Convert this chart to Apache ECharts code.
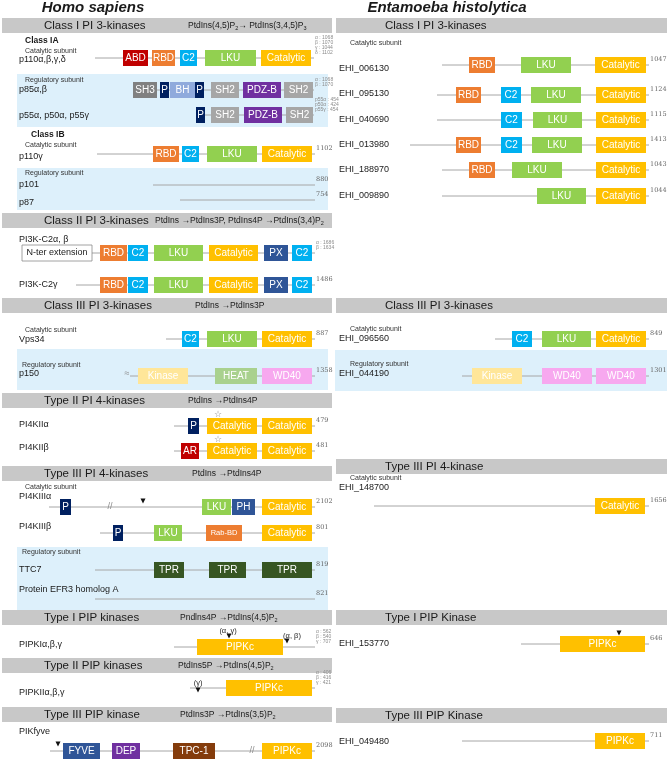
<!DOCTYPE html>
<html>
<head>
<meta charset="utf-8">
<script src="https://cdn.jsdelivr.net/npm/echarts@6/dist/echarts.min.js"></script>
<style>
  html, body { margin: 0; padding: 0; background: #fff; }
  #chart { width: 669px; height: 761px; }
</style>
</head>
<body>
<div id="chart"></div>
<script>
const FONT = '"Liberation Sans", Arial, sans-serif';

// species headings: [text, centre x]
const species = [['Homo sapiens', 93], ['Entamoeba histolytica', 447]];

// grey section bars: [side, title, reaction, top, reaction x]
const sections = [
  ['L', 'Class I PI 3-kinases', 'PtdIns(4,5)P_2→ PtdIns(3,4,5)P_3', 18, 188],
  ['L', 'Class II PI 3-kinases', 'PtdIns →PtdIns3P, PtdIns4P →PtdIns(3,4)P_2', 213, 155],
  ['L', 'Class III PI 3-kinases', 'PtdIns →PtdIns3P', 298, 195],
  ['L', 'Type II PI 4-kinases', 'PtdIns →PtdIns4P', 393, 188],
  ['L', 'Type III PI 4-kinases', 'PtdIns →PtdIns4P', 466, 192],
  ['L', 'Type I PIP kinases', 'Pndlns4P →PtdIns(4,5)P_2', 610, 180],
  ['L', 'Type II PIP kinases', 'PtdIns5P →PtdIns(4,5)P_2', 658, 178],
  ['L', 'Type III PIP kinase', 'PtdIns3P →PtdIns(3,5)P_2', 707, 180],
  ['R', 'Class I PI 3-kinases', '', 18, 0],
  ['R', 'Class III PI 3-kinases', '', 298, 0],
  ['R', 'Type III PI 4-kinase', '', 459, 0],
  ['R', 'Type I PIP Kinase', '', 610, 0],
  ['R', 'Type III PIP Kinase', '', 708, 0]
];

// light blue regulatory-subunit bands: [side, top, bottom]
const bands = [
  ['L', 74, 127], ['L', 168, 210], ['L', 349, 390], ['L', 547, 610],
  ['R', 350, 391]
];

// proteins: [name, side, line start, line end, line y, name y, length]
const proteins = [
  ['p110α,β,γ,δ', 'L', 95, 314, 58, 60, 'α : 1068\nβ : 1070\nγ : 1044\nδ : 1102'],
  ['p85α,β', 'L', 133, 314, 90, 90, 'α : 1068\nβ : 1070'],
  ['p55α, p50α, p55γ', 'L', 196, 314, 115, 116, 'p55α : 454\np50α : 424\np55γ : 454'],
  ['p110γ', 'L', 97, 315, 154, 157, '1102'],
  ['p101', 'L', 153, 315, 185, 185, '880'],
  ['p87', 'L', 180, 315, 200, 203, '754'],
  ['PI3K-C2α, β', 'L', 92, 315, 253, 240, 'α : 1686\nβ : 1634'],
  ['PI3K-C2γ', 'L', 76, 315, 285, 285, '1486'],
  ['Vps34', 'L', 166, 315, 339, 340, '887'],
  ['p150', 'L', 130, 315, 376, 374, '1358'],
  ['PI4KIIα', 'L', 174, 315, 426, 425, '479'],
  ['PI4KIIβ', 'L', 174, 315, 451, 448, '481'],
  ['PI4KIIIα', 'L', 49, 315, 507, 497, '2102'],
  ['PI4KIIIβ', 'L', 100, 315, 533, 527, '801'],
  ['TTC7', 'L', 95, 315, 570, 570, '819'],
  ['Protein EFR3 homolog A', 'L', 95, 315, 599, 590, '821'],
  ['PIPKIα,β,γ', 'L', 174, 315, 647, 645, 'α : 562\nβ : 540\nγ : 707'],
  ['PIPKIIα,β,γ', 'L', 190, 315, 688, 693, 'α : 406\nβ : 416\nγ : 421'],
  ['PIKfyve', 'L', 50, 315, 751, 732, '2098'],
  ['EHI_006130', 'R', 442, 649, 65, 69, '1047'],
  ['EHI_095130', 'R', 437, 649, 95, 94, '1124'],
  ['EHI_040690', 'R', 437, 649, 120, 120, '1115'],
  ['EHI_013980', 'R', 410, 649, 145, 145, '1413'],
  ['EHI_188970', 'R', 442, 649, 170, 170, '1043'],
  ['EHI_009890', 'R', 442, 649, 196, 196, '1044'],
  ['EHI_096560', 'R', 495, 649, 339, 339, '849'],
  ['EHI_044190', 'R', 462, 649, 376, 374, '1301'],
  ['EHI_148700', 'R', 374, 649, 506, 488, '1656'],
  ['EHI_153770', 'R', 521, 649, 644, 644, '646'],
  ['EHI_049480', 'R', 462, 649, 741, 742, '711']
];

// domains: [protein, start, end, domain]
const domains = [
  ['p110α,β,γ,δ', 123, 148, 'ABD'], ['p110α,β,γ,δ', 152, 175, 'RBD'], ['p110α,β,γ,δ', 180, 197, 'C2'],
  ['p110α,β,γ,δ', 205, 256, 'LKU'], ['p110α,β,γ,δ', 261, 311, 'Catalytic'],
  ['p85α,β', 133, 157, 'SH3'], ['p85α,β', 160, 169, 'P'], ['p85α,β', 170, 195, 'BH'], ['p85α,β', 195, 204, 'P'],
  ['p85α,β', 211, 239, 'SH2'], ['p85α,β', 243, 281, 'PDZ-B'], ['p85α,β', 284, 313, 'SH2'],
  ['p55α, p50α, p55γ', 196, 205, 'P'], ['p55α, p50α, p55γ', 211, 239, 'SH2'],
  ['p55α, p50α, p55γ', 244, 282, 'PDZ-B'], ['p55α, p50α, p55γ', 286, 313, 'SH2'],
  ['p110γ', 153, 179, 'RBD'], ['p110γ', 182, 199, 'C2'], ['p110γ', 207, 257, 'LKU'], ['p110γ', 262, 312, 'Catalytic'],
  ['PI3K-C2α, β', 22, 92, 'N-ter extension'], ['PI3K-C2α, β', 100, 127, 'RBD'], ['PI3K-C2α, β', 128, 148, 'C2'],
  ['PI3K-C2α, β', 154, 203, 'LKU'], ['PI3K-C2α, β', 209, 258, 'Catalytic'], ['PI3K-C2α, β', 264, 288, 'PX'],
  ['PI3K-C2α, β', 292, 312, 'C2'],
  ['PI3K-C2γ', 100, 127, 'RBD'], ['PI3K-C2γ', 128, 148, 'C2'], ['PI3K-C2γ', 154, 203, 'LKU'],
  ['PI3K-C2γ', 209, 258, 'Catalytic'], ['PI3K-C2γ', 264, 288, 'PX'], ['PI3K-C2γ', 292, 312, 'C2'],
  ['Vps34', 182, 199, 'C2'], ['Vps34', 207, 257, 'LKU'], ['Vps34', 262, 312, 'Catalytic'],
  ['p150', 138, 188, 'Kinase'], ['p150', 215, 257, 'HEAT'], ['p150', 262, 312, 'WD40'],
  ['PI4KIIα', 188, 199, 'P'], ['PI4KIIα', 207, 257, 'Catalytic'], ['PI4KIIα', 262, 312, 'Catalytic'],
  ['PI4KIIβ', 181, 199, 'AR'], ['PI4KIIβ', 207, 257, 'Catalytic'], ['PI4KIIβ', 262, 312, 'Catalytic'],
  ['PI4KIIIα', 60, 71, 'P'], ['PI4KIIIα', 202, 231, 'LKU'], ['PI4KIIIα', 232, 255, 'PH'], ['PI4KIIIα', 262, 312, 'Catalytic'],
  ['PI4KIIIβ', 113, 123, 'P'], ['PI4KIIIβ', 154, 182, 'LKU'], ['PI4KIIIβ', 206, 242, 'Rab-BD'], ['PI4KIIIβ', 262, 312, 'Catalytic'],
  ['TTC7', 154, 184, 'TPR'], ['TTC7', 209, 246, 'TPR'], ['TTC7', 262, 312, 'TPR'],
  ['PIPKIα,β,γ', 197, 283, 'PIPKc'],
  ['PIPKIIα,β,γ', 226, 312, 'PIPKc'],
  ['PIKfyve', 63, 100, 'FYVE'], ['PIKfyve', 112, 140, 'DEP'], ['PIKfyve', 173, 215, 'TPC-1'], ['PIKfyve', 262, 312, 'PIPKc'],
  ['EHI_006130', 469, 495, 'RBD'], ['EHI_006130', 521, 571, 'LKU'], ['EHI_006130', 595, 646, 'Catalytic'],
  ['EHI_095130', 456, 481, 'RBD'], ['EHI_095130', 501, 521, 'C2'], ['EHI_095130', 531, 581, 'LKU'], ['EHI_095130', 596, 646, 'Catalytic'],
  ['EHI_040690', 501, 522, 'C2'], ['EHI_040690', 533, 582, 'LKU'], ['EHI_040690', 596, 646, 'Catalytic'],
  ['EHI_013980', 456, 481, 'RBD'], ['EHI_013980', 501, 522, 'C2'], ['EHI_013980', 532, 582, 'LKU'], ['EHI_013980', 596, 646, 'Catalytic'],
  ['EHI_188970', 469, 495, 'RBD'], ['EHI_188970', 512, 562, 'LKU'], ['EHI_188970', 596, 646, 'Catalytic'],
  ['EHI_009890', 537, 586, 'LKU'], ['EHI_009890', 596, 646, 'Catalytic'],
  ['EHI_096560', 512, 532, 'C2'], ['EHI_096560', 542, 591, 'LKU'], ['EHI_096560', 596, 646, 'Catalytic'],
  ['EHI_044190', 472, 522, 'Kinase'], ['EHI_044190', 542, 592, 'WD40'], ['EHI_044190', 596, 646, 'WD40'],
  ['EHI_148700', 595, 645, 'Catalytic'],
  ['EHI_153770', 560, 645, 'PIPKc'],
  ['EHI_049480', 595, 645, 'PIPKc']
];

// captions above the rows: [x, y, text, kind]
const captions = [
  [25, 41, 'Class IA', 'bold'], [25, 51, 'Catalytic subunit', 'sub'], [25, 80, 'Regulatory subunit', 'sub'],
  [31, 135, 'Class IB', 'bold'], [25, 145, 'Catalytic subunit', 'sub'], [25, 173, 'Regulatory subunit', 'sub'],
  [25, 330, 'Catalytic subunit', 'sub'], [22, 365, 'Regulatory subunit', 'sub'],
  [25, 487, 'Catalytic subunit', 'sub'], [22, 552, 'Regulatory subunit', 'sub'],
  [350, 43, 'Catalytic subunit', 'sub'], [350, 329, 'Catalytic subunit', 'sub'],
  [350, 364, 'Regulatory subunit', 'sub'], [350, 478, 'Catalytic subunit', 'sub'],
  [228, 631, '(α, γ)', 'note'], [292, 636, '(α, β)', 'note'], [198, 683, '(γ)', 'note'],
  [218, 415, '☆', 'star'], [218, 440, '☆', 'star'],
  [110, 507, '//', 'break'], [252, 751, '//', 'break'], [127, 374, '≈', 'break']
];

// site markers (triangles): [x, y]
const sites = [[143, 501], [229, 636], [287, 641], [198, 690], [58, 744], [619, 633]];

const colors = {
  'ABD': '#c00000', 'RBD': '#ed7d31', 'C2': '#00b0f0', 'LKU': '#92d050', 'Catalytic': '#ffc000',
  'SH3': '#808080', 'P': '#002060', 'BH': '#8faadc', 'SH2': '#a6a6a6', 'PDZ-B': '#7030a0',
  'PX': '#2f5597', 'N-ter extension': '#ffffff', 'Kinase': '#ffe699', 'HEAT': '#a9d18e',
  'WD40': '#f7a8ef', 'AR': '#c00000', 'PH': '#2f5597', 'Rab-BD': '#ed7d31', 'TPR': '#375623',
  'PIPKc': '#ffc000', 'FYVE': '#2f5597', 'DEP': '#7030a0', 'TPC-1': '#843c0c'
};

const lineOf = {};
proteins.forEach(p => { lineOf[p[0]] = p[4]; });

function richReaction(s) {
  const parts = s.split(/_(\d)/);
  return parts.map((t, i) => t === '' ? '' : (i % 2 ? '{s|' + t + '}' : '{n|' + t + '}')).join('');
}

function txt(x, y, text, style) {
  return { type: 'text', x: x, y: y, style: Object.assign({ text: text, fontFamily: FONT, fill: '#1a1a1a', verticalAlign: 'middle' }, style) };
}

const chart = echarts.init(document.getElementById('chart'));

chart.setOption({
  animation: false,
  grid: { left: 0, right: 0, top: 0, bottom: 0 },
  xAxis: { type: 'value', min: 0, max: 669, show: false },
  yAxis: { type: 'value', min: 0, max: 761, inverse: true, show: false },
  series: [
    {
      // blue bands
      type: 'custom', z: 1,
      data: bands.map(b => [0, b[1]]),
      renderItem: function (params, api) {
        const b = bands[params.dataIndex];
        const x0 = b[0] === 'L' ? 17 : 335, x1 = b[0] === 'L' ? 328 : 667;
        const p0 = api.coord([x0, b[1]]), p1 = api.coord([x1, b[2]]);
        return { type: 'rect', shape: { x: p0[0], y: p0[1], width: p1[0] - p0[0], height: p1[1] - p0[1] }, style: { fill: '#ddf0fb' } };
      }
    },
    {
      // section bars
      type: 'custom', z: 2,
      data: sections.map(s => [0, s[3]]),
      renderItem: function (params, api) {
        const s = sections[params.dataIndex];
        const left = s[0] === 'L';
        const p0 = api.coord([left ? 2 : 336, s[3]]), p1 = api.coord([left ? 332 : 667, s[3] + 15]);
        const cy = (p0[1] + p1[1]) / 2;
        const kids = [
          { type: 'rect', shape: { x: p0[0], y: p0[1], width: p1[0] - p0[0], height: p1[1] - p0[1] }, style: { fill: '#c8c8c8' } },
          txt(api.coord([left ? 44 : 385, 0])[0], cy, s[1], { fontSize: 11.5 })
        ];
        if (s[2]) {
          kids.push({
            type: 'text', x: api.coord([s[4], 0])[0], y: cy,
            style: {
              text: richReaction(s[2]), verticalAlign: 'middle', fontFamily: FONT,
              rich: {
                n: { fontSize: 8.5, lineHeight: 12, fill: '#1a1a1a', fontFamily: FONT },
                s: { fontSize: 5.5, lineHeight: 6, fill: '#1a1a1a', fontFamily: FONT, verticalAlign: 'bottom' }
              }
            }
          });
        }
        return { type: 'group', children: kids };
      }
    },
    {
      // backbones, names and lengths
      type: 'custom', z: 3,
      data: proteins.map(p => [p[2], p[4]]),
      renderItem: function (params, api) {
        const p = proteins[params.dataIndex];
        const a = api.coord([p[2], p[4]]), b = api.coord([p[3], p[4]]);
        const nameX = api.coord([p[1] === 'L' ? 19 : 339, 0])[0];
        const kids = [
          { type: 'line', shape: { x1: a[0], y1: a[1], x2: b[0], y2: b[1] }, style: { stroke: '#a6a6a6', lineWidth: 1 } },
          txt(nameX, api.coord([0, p[5]])[1], p[0], { fontSize: 9 })
        ];
        if (p[6].indexOf('\n') >= 0) {
          const n = p[6].split('\n').length;
          kids.push({
            type: 'text', x: b[0] + 1, y: a[1] - 3 - n * 2.5,
            style: { text: p[6], fontFamily: FONT, fontSize: 5, lineHeight: 5, fill: '#8c8c8c', verticalAlign: 'middle' }
          });
        } else {
          kids.push(txt(b[0] + 1, a[1] - 6, p[6], { fontSize: 6.5, fill: '#666', fontFamily: '"DejaVu Serif", serif' }));
        }
        return { type: 'group', children: kids };
      }
    },
    {
      // domains
      type: 'custom', z: 4,
      data: domains.map(d => [d[1], lineOf[d[0]]]),
      renderItem: function (params, api) {
        const d = domains[params.dataIndex];
        const y = lineOf[d[0]];
        const h = api.size([0, 16])[1];
        const a = api.coord([d[1], y]), b = api.coord([d[2], y]);
        const nter = d[3] === 'N-ter extension';
        return {
          type: 'group', children: [
            { type: 'rect', shape: { x: a[0], y: a[1] - h / 2, width: b[0] - a[0], height: h },
              style: { fill: colors[d[3]], stroke: nter ? '#8c8c8c' : null, lineWidth: nter ? 0.8 : 0 } },
            txt((a[0] + b[0]) / 2, a[1], d[3], {
              align: 'center', fill: nter ? '#1a1a1a' : '#fff',
              fontSize: d[3] === 'Rab-BD' ? 7.5 : (nter ? 9 : 10)
            })
          ]
        };
      }
    },
    {
      // captions, notes, break marks
      type: 'custom', z: 5,
      data: captions.map(c => [c[0], c[1]]),
      renderItem: function (params, api) {
        const c = captions[params.dataIndex];
        const p = api.coord([c[0], c[1]]);
        const styles = {
          bold: { fontSize: 8.5, fontWeight: 'bold' },
          sub: { fontSize: 7, fill: '#333' },
          note: { fontSize: 7.5, align: 'center' },
          star: { fontSize: 9, align: 'center', fill: '#8c8c8c' },
          break: { fontSize: 9, align: 'center', fill: '#8c8c8c' }
        };
        return txt(p[0], p[1], c[2], styles[c[3]]);
      }
    },
    {
      // site triangles
      type: 'custom', z: 6,
      data: sites,
      renderItem: function (params, api) {
        const p = api.coord([api.value(0), api.value(1)]);
        return { type: 'polygon', shape: { points: [[p[0] - 2.5, p[1] - 2.5], [p[0] + 2.5, p[1] - 2.5], [p[0], p[1] + 2.5]] }, style: { fill: '#111' } };
      }
    },
    {
      // species headings
      type: 'custom', z: 6,
      data: species.map(s => [s[1], 8]),
      renderItem: function (params, api) {
        const s = species[params.dataIndex];
        const p = api.coord([s[1], 8]);
        return txt(p[0], p[1], s[0], { fontSize: 15, fontWeight: 'bold', fontStyle: 'italic', align: 'center' });
      }
    }
  ]
});
</script>
</body>
</html>
